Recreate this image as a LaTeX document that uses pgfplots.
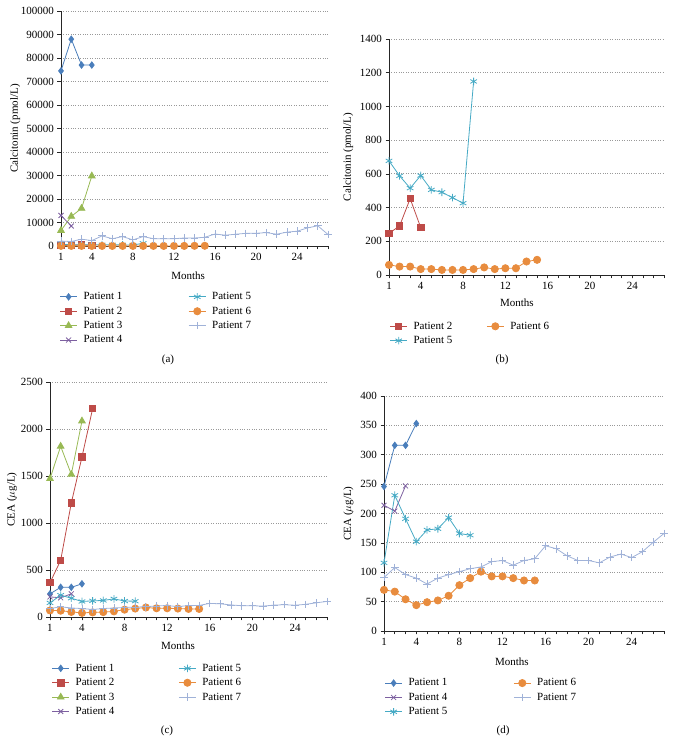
\documentclass[border=0pt]{standalone}
\usepackage{pgfplots}
\pgfplotsset{compat=1.18}
\usepackage{fontspec}
\setmainfont{Liberation Serif}

\definecolor{c1}{RGB}{74,126,187}
\definecolor{c2}{RGB}{190,75,72}
\definecolor{c3}{RGB}{152,185,84}
\definecolor{c4}{RGB}{125,96,160}
\definecolor{c5}{RGB}{70,170,197}
\definecolor{c6}{RGB}{232,140,62}
\definecolor{c7}{RGB}{160,178,216}

\newcommand{\fs}{\fontsize{11}{13}\selectfont}

\pgfplotsset{
  p1/.style={c1, line width=0.8pt, mark=diamond*, mark size=3.2pt, mark options={solid, fill=c1}},
  p2/.style={c2, line width=0.8pt, mark=square*, mark size=3.2pt, mark options={solid, fill=c2}},
  p3/.style={c3, line width=0.8pt, mark=triangle*, mark size=3.8pt, mark options={solid, fill=c3}},
  p4/.style={c4, line width=0.8pt, mark=x, mark size=3.5pt},
  p5/.style={c5, line width=0.8pt, mark=asterisk, mark size=3.8pt},
  p6/.style={c6, line width=0.8pt, mark=*, mark size=3.6pt, mark options={solid, fill=c6}},
  p7/.style={c7, line width=0.8pt, mark=+, mark size=3.8pt},
  panel/.style={
    scale only axis,
    xmin=1, xmax=27, ymin=0,
    xtick={1,4,8,12,16,20,24},
    minor xtick={1,...,27},
    axis x line*=bottom, axis y line*=left,
    axis line style={black!85, line width=0.8pt},
    tick align=outside,
    major tick length=3.5pt, minor tick length=3.5pt,
    every tick/.style={black!85, line width=0.6pt},
    ymajorgrids,
    major grid style={dotted, gray!80, line width=0.8pt},
    clip=false,
    tick label style={font=\fs},
    label style={font=\fs},
    /pgf/number format/fixed,
    /pgf/number format/precision=0,
    /pgf/number format/assume math mode=true,
    /pgf/number format/1000 sep={},
    scaled y ticks=false,
    xlabel={Months},
    legend columns=2,
    legend cell align=left,
    legend style={draw=none, fill=none, font=\fs, anchor=north west,
      row sep=1.6pt,
      /tikz/every odd column/.append style={column sep=4pt}},
  },
}

\begin{document}
\begin{tikzpicture}
\path[use as bounding box] (0,0) rectangle (675pt,743pt);

% (a)
\begin{axis}[panel,
  at={(61pt,497pt)}, anchor=south west, width=267pt, height=235pt,
  ymax=100000, ytick={0,10000,...,100000},
  ylabel={Calcitonin (pmol/L)},
  ylabel style={yshift=-6pt},
  xlabel style={at={(axis description cs:0.476,-0.128)}, anchor=center},
  legend style={at={(axis description cs:-0.017,-0.18)},
    /tikz/every even column/.append style={column sep=64pt}},
]
\addplot[p1, forget plot] coordinates {(1,74500)(2,88000)(3,77000)(4,77000)};
\addplot[p2, forget plot] coordinates {(1,250)(2,290)(3,460)(4,280)};
\addplot[p3, forget plot] coordinates {(1,6600)(2,12600)(3,16000)(4,29800)};
\addplot[p4, forget plot] coordinates {(1,13000)(2,8500)};
\addplot[p5, forget plot] coordinates {(1,680)(2,590)(3,520)(4,590)(5,510)(6,490)(7,460)(8,430)(9,1150)};
\addplot[p6, forget plot] coordinates {(1,60)(2,50)(3,50)(4,35)(5,35)(6,30)(7,30)(8,30)(9,35)(10,45)(11,35)(12,40)(13,40)(14,80)(15,90)};
\addplot[p7, forget plot] coordinates {(1,2100)(2,1900)(3,2900)(4,2300)(5,4300)(6,3100)(7,4000)(8,2600)(9,4000)(10,3100)(11,3100)(12,3100)(13,3400)(14,3400)(15,3700)(16,5100)(17,4600)(18,5000)(19,5400)(20,5400)(21,5700)(22,5000)(23,5900)(24,6300)(25,7700)(26,8600)(27,4900)};
\addlegendimage{p1}\addlegendentry{Patient 1}
\addlegendimage{p5}\addlegendentry{Patient 5}
\addlegendimage{p2}\addlegendentry{Patient 2}
\addlegendimage{p6}\addlegendentry{Patient 6}
\addlegendimage{p3}\addlegendentry{Patient 3}
\addlegendimage{p7}\addlegendentry{Patient 7}
\addlegendimage{p4}\addlegendentry{Patient 4}
\end{axis}

% (b)
\begin{axis}[panel,
  at={(389pt,468pt)}, anchor=south west, width=275pt, height=236pt,
  ymax=1400, ytick={0,200,...,1400},
  ylabel={Calcitonin (pmol/L)},
  xlabel style={at={(axis description cs:0.465,-0.119)}, anchor=center},
  legend style={at={(axis description cs:-0.009,-0.181)},
    /tikz/every even column/.append style={column sep=32pt}},
]
\addplot[p2, forget plot] coordinates {(1,247)(2,291)(3,453)(4,281)};
\addplot[p5, forget plot] coordinates {(1,677)(2,588)(3,515)(4,590)(5,505)(6,491)(7,459)(8,426)(9,1148)};
\addplot[p6, forget plot] coordinates {(1,60)(2,50)(3,50)(4,35)(5,35)(6,30)(7,30)(8,30)(9,35)(10,45)(11,35)(12,40)(13,40)(14,80)(15,90)};
\addlegendimage{p2}\addlegendentry{Patient 2}
\addlegendimage{p6}\addlegendentry{Patient 6}
\addlegendimage{p5}\addlegendentry{Patient 5}
\end{axis}

% (c)
\begin{axis}[panel,
  at={(50pt,126pt)}, anchor=south west, width=277pt, height=235pt,
  ymax=2500, ytick={0,500,...,2500},
  ylabel={CEA ($\mu$g/L)},
  ylabel style={yshift=-3pt},
  xlabel style={at={(axis description cs:0.462,-0.123)}, anchor=center},
  legend style={at={(axis description cs:-0.005,-0.182)},
    /tikz/every even column/.append style={column sep=62pt}},
]
\addplot[p1, forget plot] coordinates {(1,246)(2,316)(3,316)(4,353)};
\addplot[p2, forget plot] coordinates {(1,365)(2,603)(3,1213)(4,1702)(5,2216)};
\addplot[p3, forget plot] coordinates {(1,1472)(2,1816)(3,1518)(4,2085)};
\addplot[p4, forget plot] coordinates {(1,214)(2,204)(3,247)};
\addplot[p5, forget plot] coordinates {(1,150)(2,232)(3,200)(4,165)(5,172)(6,176)(7,193)(8,170)(9,168)};
\addplot[p6, forget plot] coordinates {(1,70)(2,67)(3,54)(4,44)(5,49)(6,52)(7,60)(8,78)(9,90)(10,101)(11,93)(12,93)(13,90)(14,86)(15,86)};
\addplot[p7, forget plot] coordinates {(1,91)(2,108)(3,96)(4,90)(5,80)(6,90)(7,96)(8,101)(9,106)(10,109)(11,118)(12,120)(13,112)(14,120)(15,123)(16,145)(17,140)(18,128)(19,120)(20,120)(21,116)(22,126)(23,131)(24,125)(25,135)(26,151)(27,166)};
\addlegendimage{p1}\addlegendentry{Patient 1}
\addlegendimage{p5}\addlegendentry{Patient 5}
\addlegendimage{p2}\addlegendentry{Patient 2}
\addlegendimage{p6}\addlegendentry{Patient 6}
\addlegendimage{p3}\addlegendentry{Patient 3}
\addlegendimage{p7}\addlegendentry{Patient 7}
\addlegendimage{p4}\addlegendentry{Patient 4}
\end{axis}

% (d)
\begin{axis}[panel,
  at={(384pt,112pt)}, anchor=south west, width=280pt, height=235pt,
  ymax=400, ytick={0,50,...,400},
  ylabel={CEA ($\mu$g/L)},
  xlabel style={at={(axis description cs:0.457,-0.131)}, anchor=center},
  legend style={at={(axis description cs:-0.009,-0.185)},
    /tikz/every even column/.append style={column sep=64pt}},
]
\addplot[p1, forget plot] coordinates {(1,246)(2,316)(3,316)(4,353)};
\addplot[p4, forget plot] coordinates {(1,214)(2,204)(3,247)};
\addplot[p5, forget plot] coordinates {(1,116)(2,231)(3,191)(4,152)(5,172)(6,174)(7,193)(8,166)(9,163)};
\addplot[p6, forget plot] coordinates {(1,70)(2,67)(3,54)(4,44)(5,49)(6,52)(7,60)(8,78)(9,90)(10,101)(11,93)(12,93)(13,90)(14,86)(15,86)};
\addplot[p7, forget plot] coordinates {(1,91)(2,108)(3,96)(4,90)(5,80)(6,90)(7,96)(8,101)(9,106)(10,109)(11,118)(12,120)(13,112)(14,120)(15,123)(16,145)(17,140)(18,128)(19,120)(20,120)(21,116)(22,126)(23,131)(24,125)(25,135)(26,151)(27,166)};
\addlegendimage{p1}\addlegendentry{Patient 1}
\addlegendimage{p6}\addlegendentry{Patient 6}
\addlegendimage{p4}\addlegendentry{Patient 4}
\addlegendimage{p7}\addlegendentry{Patient 7}
\addlegendimage{p5}\addlegendentry{Patient 5}
\end{axis}

\node[font=\fs] at (168pt,383pt) {(a)};
\node[font=\fs] at (502pt,383pt) {(b)};
\node[font=\fs] at (167pt,12.3pt) {(c)};
\node[font=\fs] at (503pt,12.3pt) {(d)};
\end{tikzpicture}
\end{document}
